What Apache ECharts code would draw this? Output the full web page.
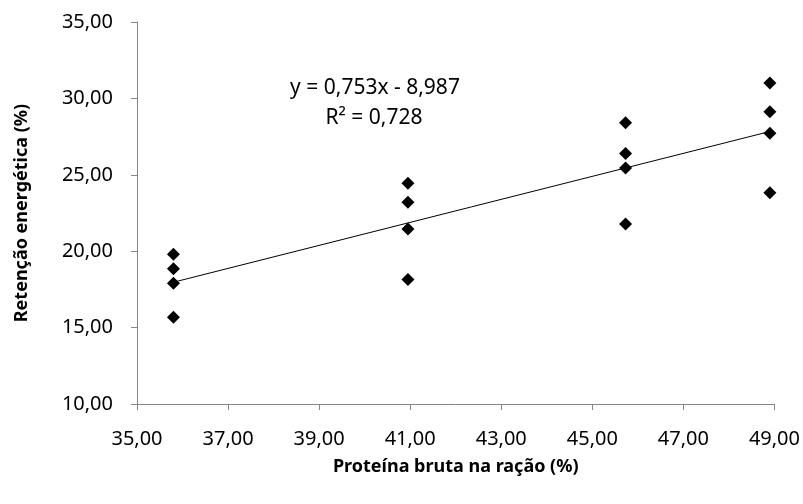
<!DOCTYPE html>
<html>
<head>
<meta charset="utf-8">
<script src="https://cdn.jsdelivr.net/npm/echarts@6/dist/echarts.min.js"></script>
<style>
  html, body { margin: 0; padding: 0; background: #fff; }
  #chart { width: 803px; height: 504px; }
</style>
</head>
<body>
<div id="chart"></div>
<script>
// proteína bruta (%) e retenção energética (%)
const proteina = [35.8, 35.8, 35.8, 35.8, 40.95, 40.95, 40.95, 40.95, 45.73, 45.73, 45.73, 45.73, 48.9, 48.9, 48.9, 48.9];
const retencao = [19.8, 18.85, 17.9, 15.67, 24.45, 23.2, 21.45, 18.15, 28.4, 26.4, 25.45, 21.78, 31.0, 29.13, 27.72, 23.83];
const xTicks = [35, 37, 39, 41, 43, 45, 47, 49];
const yTicks = [10, 15, 20, 25, 30, 35];
// linha de tendência: y = 0,753x - 8,987
const coef = [0.753, -8.987];
const trendX = [35.8, 48.9];

const fmt = v => v.toFixed(2).replace('.', ',');
const font = 'Noto Sans';

const chart = echarts.init(document.getElementById('chart'));
chart.setOption({
  animation: false,
  grid: { left: 137, right: 27, top: 22, bottom: 100 },
  xAxis: {
    type: 'value',
    min: xTicks[0],
    max: xTicks[xTicks.length - 1],
    interval: 2,
    name: 'Proteína bruta na ração (%)',
    nameLocation: 'middle',
    nameGap: 54,
    nameTextStyle: { fontFamily: font, fontSize: 18, fontWeight: 'bold', color: '#000' },
    axisLine: { lineStyle: { color: '#868686' } },
    axisTick: { show: true, length: 6, lineStyle: { color: '#868686' } },
    axisLabel: { formatter: fmt, fontFamily: font, fontSize: 20, color: '#000', margin: 25 },
    splitLine: { show: false }
  },
  yAxis: {
    type: 'value',
    min: yTicks[0],
    max: yTicks[yTicks.length - 1],
    interval: 5,
    name: 'Retenção energética (%)',
    nameLocation: 'middle',
    nameGap: 106,
    nameTextStyle: { fontFamily: font, fontSize: 18, fontWeight: 'bold', color: '#000' },
    axisLine: { show: true, lineStyle: { color: '#868686' } },
    axisTick: { show: true, length: 6, lineStyle: { color: '#868686' } },
    axisLabel: { formatter: fmt, fontFamily: font, fontSize: 20, color: '#000', margin: 24 },
    splitLine: { show: false }
  },
  graphic: [
    { type: 'text', x: 375, y: 88,
      style: { text: 'y = 0,753x - 8,987', font: '21px ' + font, fill: '#000', align: 'center', verticalAlign: 'middle' } },
    { type: 'text', x: 374, y: 118,
      style: { text: 'R² = 0,728', font: '21px ' + font, fill: '#000', align: 'center', verticalAlign: 'middle' } }
  ],
  series: [
    {
      type: 'line',
      data: trendX.map(x => [x, coef[0] * x + coef[1]]),
      symbol: 'none',
      lineStyle: { color: '#000', width: 1 },
      z: 1
    },
    {
      type: 'scatter',
      data: proteina.map((x, i) => [x, retencao[i]]),
      symbol: 'diamond',
      symbolSize: 13,
      itemStyle: { color: '#000', opacity: 1 },
      z: 2
    }
  ]
});
</script>
</body>
</html>
